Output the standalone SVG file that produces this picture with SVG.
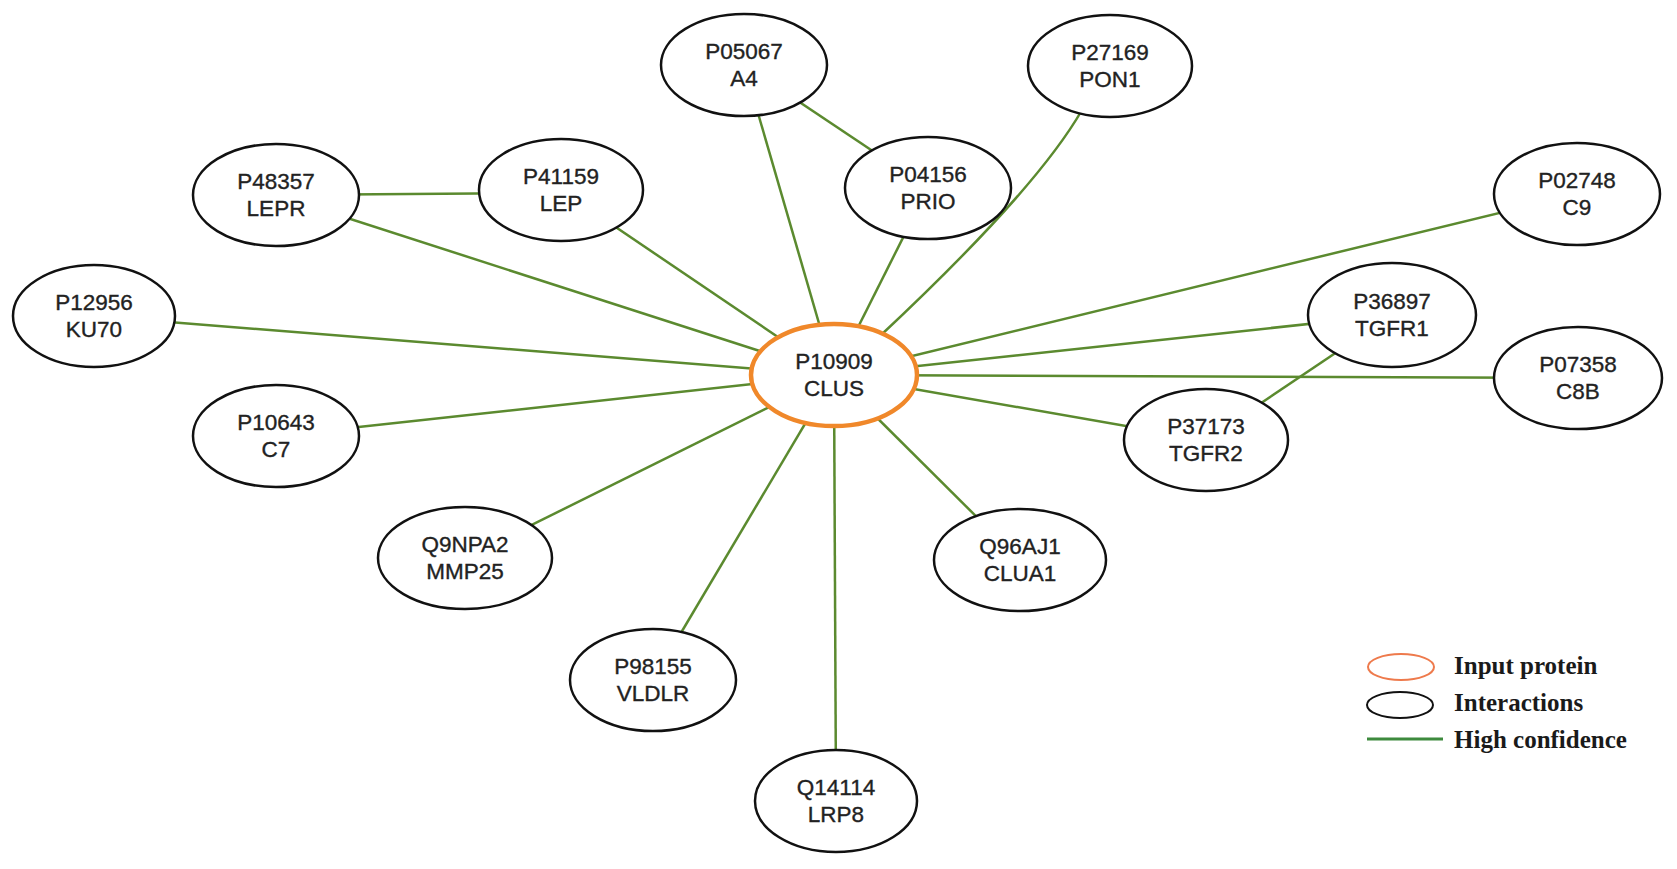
<svg xmlns="http://www.w3.org/2000/svg" width="1677" height="869" viewBox="0 0 1677 869">
<style>
.e{stroke:#5b8a2f;stroke-width:2.5;fill:none}
.n{fill:#fff;stroke:#111;stroke-width:2.5}
.c{fill:#fff;stroke:#f0882a;stroke-width:4.5}
.t{font-family:"Liberation Sans",Arial,sans-serif;font-size:22.5px;fill:#222;stroke:#222;stroke-width:0.35;text-anchor:middle}
.lg{font-family:"Liberation Serif","Times New Roman",serif;font-size:25px;font-weight:bold;fill:#1a1a1a}
</style>
<rect width="1677" height="869" fill="#fff"/>
<g id="connectors">
<line class="e" x1="744" y1="65" x2="834" y2="375"/>
<line class="e" x1="744" y1="65" x2="928" y2="188"/>
<line class="e" x1="928" y1="188" x2="834" y2="375"/>
<path class="e" d="M1082,110 Q1036,190 880,336"/>
<line class="e" x1="276" y1="195" x2="561" y2="193"/>
<line class="e" x1="276" y1="195" x2="834" y2="375"/>
<line class="e" x1="561" y1="190" x2="834" y2="375"/>
<line class="e" x1="94" y1="316" x2="834" y2="375"/>
<line class="e" x1="1577" y1="194" x2="834" y2="375"/>
<line class="e" x1="1392" y1="315" x2="834" y2="375"/>
<line class="e" x1="1578" y1="378" x2="834" y2="375"/>
<line class="e" x1="1392" y1="315" x2="1206" y2="440"/>
<line class="e" x1="1206" y1="440" x2="834" y2="375"/>
<line class="e" x1="276" y1="436" x2="834" y2="375"/>
<line class="e" x1="465" y1="558" x2="834" y2="375"/>
<line class="e" x1="653" y1="680" x2="834" y2="375"/>
<line class="e" x1="836" y1="801" x2="834" y2="375"/>
<line class="e" x1="1020" y1="560" x2="834" y2="375"/>
</g>
<g id="A4"><ellipse class="n" cx="744" cy="65" rx="83" ry="51"/><text class="t" x="744" y="59">P05067</text><text class="t" x="744" y="86">A4</text></g>
<g id="PON1"><ellipse class="n" cx="1110" cy="66" rx="82" ry="51"/><text class="t" x="1110" y="60">P27169</text><text class="t" x="1110" y="87">PON1</text></g>
<g id="PRIO"><ellipse class="n" cx="928" cy="188" rx="83" ry="51"/><text class="t" x="928" y="182">P04156</text><text class="t" x="928" y="209">PRIO</text></g>
<g id="LEPR"><ellipse class="n" cx="276" cy="195" rx="83" ry="51"/><text class="t" x="276" y="189">P48357</text><text class="t" x="276" y="216">LEPR</text></g>
<g id="LEP"><ellipse class="n" cx="561" cy="190" rx="82" ry="51"/><text class="t" x="561" y="184">P41159</text><text class="t" x="561" y="211">LEP</text></g>
<g id="C9"><ellipse class="n" cx="1577" cy="194" rx="83" ry="51"/><text class="t" x="1577" y="188">P02748</text><text class="t" x="1577" y="215">C9</text></g>
<g id="KU70"><ellipse class="n" cx="94" cy="316" rx="81" ry="51"/><text class="t" x="94" y="310">P12956</text><text class="t" x="94" y="337">KU70</text></g>
<g id="TGFR1"><ellipse class="n" cx="1392" cy="315" rx="84" ry="52"/><text class="t" x="1392" y="309">P36897</text><text class="t" x="1392" y="336">TGFR1</text></g>
<g id="C8B"><ellipse class="n" cx="1578" cy="378" rx="84" ry="51"/><text class="t" x="1578" y="372">P07358</text><text class="t" x="1578" y="399">C8B</text></g>
<g id="CLUS"><ellipse class="c" cx="834" cy="375" rx="83" ry="51"/><text class="t" x="834" y="369">P10909</text><text class="t" x="834" y="396">CLUS</text></g>
<g id="C7"><ellipse class="n" cx="276" cy="436" rx="83" ry="51"/><text class="t" x="276" y="430">P10643</text><text class="t" x="276" y="457">C7</text></g>
<g id="TGFR2"><ellipse class="n" cx="1206" cy="440" rx="82" ry="51"/><text class="t" x="1206" y="434">P37173</text><text class="t" x="1206" y="461">TGFR2</text></g>
<g id="MMP25"><ellipse class="n" cx="465" cy="558" rx="87" ry="51"/><text class="t" x="465" y="552">Q9NPA2</text><text class="t" x="465" y="579">MMP25</text></g>
<g id="CLUA1"><ellipse class="n" cx="1020" cy="560" rx="86" ry="51"/><text class="t" x="1020" y="554">Q96AJ1</text><text class="t" x="1020" y="581">CLUA1</text></g>
<g id="VLDLR"><ellipse class="n" cx="653" cy="680" rx="83" ry="51"/><text class="t" x="653" y="674">P98155</text><text class="t" x="653" y="701">VLDLR</text></g>
<g id="LRP8"><ellipse class="n" cx="836" cy="801" rx="81" ry="51"/><text class="t" x="836" y="795">Q14114</text><text class="t" x="836" y="822">LRP8</text></g>
<g id="legend">
<ellipse cx="1401" cy="667" rx="33" ry="13" fill="#fff" stroke="#ee7a4c" stroke-width="2"/>
<ellipse cx="1400" cy="705" rx="33" ry="13" fill="#fff" stroke="#111" stroke-width="2"/>
<line x1="1367" y1="739" x2="1443" y2="739" stroke="#3d8a3d" stroke-width="3"/>
<text class="lg" x="1454" y="674">Input protein</text>
<text class="lg" x="1454" y="711">Interactions</text>
<text class="lg" x="1454" y="748">High confidence</text>
</g>
</svg>
